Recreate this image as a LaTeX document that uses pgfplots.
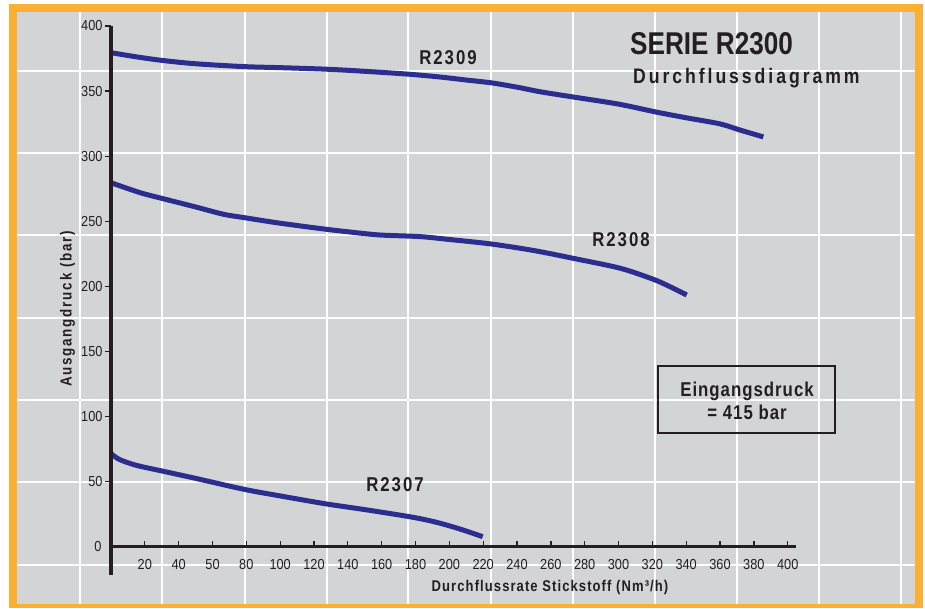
\documentclass[border=0pt]{standalone}
\usepackage{fontspec}
\setmainfont{Liberation Sans}
\usepackage{pgfplots}
\pgfplotsset{compat=1.18}
\newfontfamily\condB[FakeStretch=0.84]{Liberation Sans}
\newfontfamily\titlefont[FakeStretch=0.83]{Liberation Sans}
\newfontfamily\tickfont[FakeStretch=0.88]{Liberation Sans}
\definecolor{bggray}{HTML}{D3D4D6}
\definecolor{frameor}{HTML}{FBB034}
\definecolor{curve}{HTML}{2B2E8E}
\definecolor{ink}{HTML}{231F20}
\begin{document}
\begin{tikzpicture}[x=1pt,y=1pt]
\useasboundingbox (0,0) rectangle (925,608);
\fill[white] (0,0) rectangle (925,608);
\fill[frameor] (9,0) rectangle (923,604);
\fill[bggray] (17,4) rectangle (915,596);
\foreach \gx in {80,162,245,327,408,491,573,655,737,819,901}
  \draw[white,line width=1.5pt] (\gx,4) -- (\gx,596);
\foreach \gy in {71,153,235,318,400,482,565}
  \draw[white,line width=1.5pt] (17,{608-\gy}) -- (915,{608-\gy});
\begin{axis}[
  at={(111pt,61.3pt)}, anchor=south west,
  scale only axis, width=676.7pt, height=520.7pt,
  xmin=0, xmax=400, ymin=0, ymax=400,
  clip=false,
  axis x line=bottom, axis y line=left,
  axis line style={draw=none},
  xtick={20,40,60,80,100,120,140,160,180,200,220,240,260,280,300,320,340,360,380,400},
  xticklabels={20,40,50,80,100,120,140,160,180,200,220,240,260,280,300,320,340,360,380,400},
  ytick={50,100,150,200,250,300,350,400},
  yticklabels={50,100,150,200,250,300,350,400},
  extra y ticks={0}, extra y tick labels={0},
  extra y tick style={major tick length=0pt, yticklabel style={xshift=-7pt}},
  xtick align=inside, ytick align=outside,
  major tick length=6pt,
  tick style={ink, line width=1.3pt},
  xticklabel style={font=\tickfont\fontsize{14.5}{14.5}\selectfont, text=ink, anchor=base, yshift=-23pt},
  yticklabel style={font=\tickfont\fontsize{14.5}{14.5}\selectfont, text=ink, anchor=east, xshift=1pt},
]
\addplot[curve, line width=5pt, smooth, tension=0.5] coordinates {
(0,379.5) (15,376.3) (30,373.6) (50,371) (78.6,368.8) (100,368) (127.5,366.8)
(150,365.2) (176.7,362.9) (194.5,360.8) (210,358.5) (225,356.3) (240,353) (253.6,349.5)
(273,345.5) (300,340) (322.6,333.8) (340,329.5) (360,324.8) (372,320) (385.6,314.8)};
\addplot[curve, line width=5pt, smooth, tension=0.5] coordinates {
(0,279.6) (17.1,272) (30,267.6) (50,261) (66.4,255.4) (78.6,252.8) (100,248.5) (127.5,243.8)
(150,240.5) (161,239.3) (182.7,238.2) (200,236) (225,232.5) (250,227.5) (273.3,221.5)
(301,213.9) (320.6,205.4) (330,200) (340.3,193.4)};
\addplot[curve, line width=5pt, smooth, tension=0.5] coordinates {
(0,71.5) (5,67) (15,62.5) (30,58.2) (50,52.5) (78.6,44.1) (100,39) (127.5,32.8) (150,28.5)
(176.7,23) (190,19.5) (200.4,15.9) (210,12) (219.7,7.7)};
\draw[ink, line width=3.5pt] (axis cs:0,-21.7) -- (axis cs:0,400);
\draw[ink, line width=2.5pt] (axis cs:0,0) -- (axis cs:404.9,0);
\end{axis}
\node[anchor=base west, inner sep=0, text=ink, font=\titlefont\bfseries\fontsize{31.5}{31.5}\selectfont] at (630,553) {SERIE R2300};
\node[anchor=base west, inner sep=0, text=ink, font=\condB\bfseries\fontsize{21}{21}\selectfont\addfontfeatures{LetterSpace=14}] at (633,524.5) {Durchflussdiagramm};
\draw[ink, line width=2.5pt] (658,175) rectangle (835,242);
\node[anchor=base, inner sep=0, text=ink, font=\condB\bfseries\fontsize{20}{20}\selectfont\addfontfeatures{LetterSpace=5}] at (747,212) {Eingangsdruck};
\node[anchor=base, inner sep=0, text=ink, font=\condB\bfseries\fontsize{20}{20}\selectfont\addfontfeatures{LetterSpace=5}] at (747,189) {= 415 bar};
\node[anchor=base, inner sep=0, text=ink, font=\condB\bfseries\fontsize{20}{20}\selectfont\addfontfeatures{LetterSpace=10}] at (448,543) {R2309};
\node[anchor=base, inner sep=0, text=ink, font=\condB\bfseries\fontsize{20}{20}\selectfont\addfontfeatures{LetterSpace=10}] at (621,361) {R2308};
\node[anchor=base, inner sep=0, text=ink, font=\condB\bfseries\fontsize{20}{20}\selectfont\addfontfeatures{LetterSpace=10}] at (395,117) {R2307};
\node[anchor=base, inner sep=0, text=ink, font=\condB\bfseries\fontsize{15.5}{15.5}\selectfont\addfontfeatures{LetterSpace=7}] at (550,17) {Durchflussrate Stickstoff (Nm³/h)};
\node[anchor=base, rotate=90, inner sep=0, text=ink, font=\condB\bfseries\fontsize{16}{16}\selectfont\addfontfeatures{LetterSpace=11}] at (71.7,299) {Ausgangdruck (bar)};
\end{tikzpicture}
\end{document}
